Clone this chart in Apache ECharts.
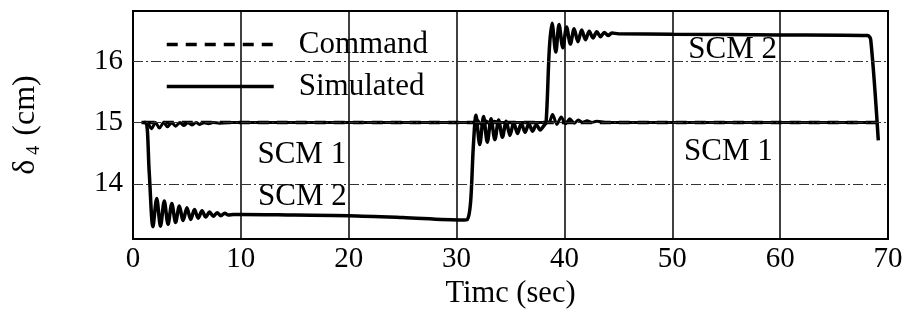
<!DOCTYPE html>
<html>
<head>
<meta charset="utf-8">
<script src="https://cdn.jsdelivr.net/npm/echarts@6/dist/echarts.min.js"></script>
<style>html,body{margin:0;padding:0;background:#fff;}#c{width:913px;height:316px;}</style>
</head>
<body>
<div id="c"></div>
<script>
// ---- data ----
const xTicks = [0, 10, 20, 30, 40, 50, 60, 70];
const yTicks = [14, 15, 16];
const commandLine = [[1.0, 15.0], [69.0, 15.0]];
const scm1Sim = [[0.8,15.0],[1.3,15.0],[1.7,14.9],[2.1,15.0],[2.45,14.91],[2.85,15.0],[3.2,14.93],[3.6,15.0],[3.95,14.94],[4.35,15.0],[4.7,14.95],[5.1,15.0],[5.45,14.96],[5.85,15.0],[6.2,14.97],[6.6,15.0],[7.0,14.98],[7.4,15.0],[8.0,14.99],[9.0,15.0],[31.5,15.0],[31.9,15.04],[32.3,14.97],[32.7,15.03],[33.1,14.98],[33.5,15.02],[34.0,15.0],[38.5,15.0],[38.9,15.13],[39.3,14.97],[39.7,15.09],[40.1,14.98],[40.5,15.06],[40.9,14.99],[41.3,15.04],[41.7,15.0],[42.1,15.03],[42.5,15.0],[43.0,15.02],[44.0,15.0],[68.9,15.0]];
const scm2Sim = [[0.8,15.0],[1.2,15.0],[1.5,14.2],[1.85,13.3],[2.2,13.76],[2.55,13.31],[2.9,13.72],[3.25,13.34],[3.6,13.68],[3.95,13.37],[4.3,13.64],[4.65,13.4],[5.0,13.61],[5.35,13.42],[5.7,13.58],[6.05,13.44],[6.4,13.56],[6.75,13.46],[7.1,13.54],[7.45,13.47],[7.8,13.53],[8.15,13.48],[8.5,13.52],[8.85,13.49],[9.3,13.5],[10,13.5],[15,13.49],[20,13.48],[25,13.45],[30.5,13.41],[31.0,13.42],[31.3,13.7],[31.55,14.6],[31.8,15.12],[32.15,14.64],[32.5,15.1],[32.85,14.68],[33.2,15.06],[33.55,14.72],[33.9,15.04],[34.25,14.76],[34.6,15.02],[34.95,14.79],[35.3,15.0],[35.65,14.82],[36.0,14.99],[36.35,14.84],[36.7,14.98],[37.05,14.86],[37.4,14.97],[37.75,14.88],[38.1,14.95],[38.3,15.0],[38.6,16.2],[38.85,16.62],[39.2,16.15],[39.5,16.6],[39.85,16.22],[40.2,16.56],[40.55,16.28],[40.9,16.53],[41.25,16.32],[41.6,16.51],[41.95,16.35],[42.3,16.49],[42.65,16.38],[43.0,16.48],[43.35,16.4],[43.7,16.47],[44.05,16.42],[44.4,16.46],[45,16.45],[50,16.44],[60,16.43],[68.1,16.42],[68.4,16.35],[69.1,14.71]];
const annotations = [[15.65,14.47,'SCM 1'],[15.7,13.79,'SCM 2'],[55.6,16.18,'SCM 2'],[55.2,14.52,'SCM 1']];
const seriesNames = ['Command', 'Simulated'];

const FONT = "'Liberation Serif','DejaVu Serif',serif";
const chart = echarts.init(document.getElementById('c'), null, {renderer: 'canvas'});
chart.setOption({
  animation: false,
  backgroundColor: '#fff',
  grid: {left: 133, right: 25, top: 11, bottom: 77, show: true, borderColor: '#000', borderWidth: 2, backgroundColor: 'transparent'},
  legend: {
    data: seriesNames, orient: 'vertical', left: 160, top: 24,
    itemWidth: 107, itemHeight: 20, itemGap: 11,
    itemStyle: {opacity: 0},
    lineStyle: {width: 3.5},
    textStyle: {fontFamily: FONT, fontSize: 31, color: '#000', lineHeight: 30, padding: [0, 0, 0, 20]}
  },
  xAxis: {
    type: 'value', min: 0, max: 70, interval: 10,
    name: 'Timc (sec)', nameLocation: 'middle', nameGap: 39,
    nameTextStyle: {fontFamily: FONT, fontSize: 30.5, color: '#000'},
    axisLine: {show: true, lineStyle: {color: '#000', width: 2}},
    axisTick: {show: false},
    axisLabel: {fontFamily: FONT, fontSize: 29, color: '#000', margin: 6,
      customValues: xTicks},
    splitLine: {show: true, lineStyle: {color: '#000', width: 1.5}}
  },
  yAxis: {
    type: 'value', min: 13.1, max: 16.82,
    name: '{a|δ}{b|4}{a| (cm)}', nameLocation: 'middle', nameGap: 90, nameRotate: 90,
    nameTextStyle: {fontFamily: FONT, fontSize: 29, color: '#000',
      rich: {a: {fontFamily: FONT, fontSize: 32, color: '#000', lineHeight: 34},
             b: {fontFamily: FONT, fontSize: 18, color: '#000', lineHeight: 34, verticalAlign: 'bottom', padding: [0, 2, 0, 5]}}},
    axisLine: {show: true, lineStyle: {color: '#000', width: 2}},
    axisTick: {show: false},
    axisLabel: {fontFamily: FONT, fontSize: 29, color: '#000', margin: 10, customValues: yTicks},
    splitLine: {show: false}
  },
  series: [
    {
      name: 'Command', type: 'line', data: commandLine, symbol: 'none', z: 4,
      itemStyle: {color: '#000'},
      lineStyle: {color: '#000', width: 3.5, type: [11, 8]},
      markLine: {
        silent: true, symbol: 'none', label: {show: false},
        lineStyle: {color: '#333', width: 1, type: [10, 3, 2, 3]},
        data: yTicks.map(v => ({yAxis: v}))
      }
    },
    {name: 'Simulated', type: 'line', data: scm1Sim, symbol: 'none', z: 3, smooth: 0.3,
      itemStyle: {color: '#000'}, lineStyle: {color: '#000', width: 3}},
    {name: 'Simulated', type: 'line', data: scm2Sim, symbol: 'none', z: 3, smooth: 0.3,
      itemStyle: {color: '#000'}, lineStyle: {color: '#000', width: 3.5}},
    {
      name: 'labels', type: 'scatter', data: annotations, symbolSize: 1,
      itemStyle: {color: 'rgba(0,0,0,0)', opacity: 1}, silent: true, z: 5,
      label: {show: true, position: 'inside', formatter: p => p.value[2], opacity: 1,
        fontFamily: FONT, fontSize: 31, color: '#000'}
    }
  ]
});
</script>
</body>
</html>
